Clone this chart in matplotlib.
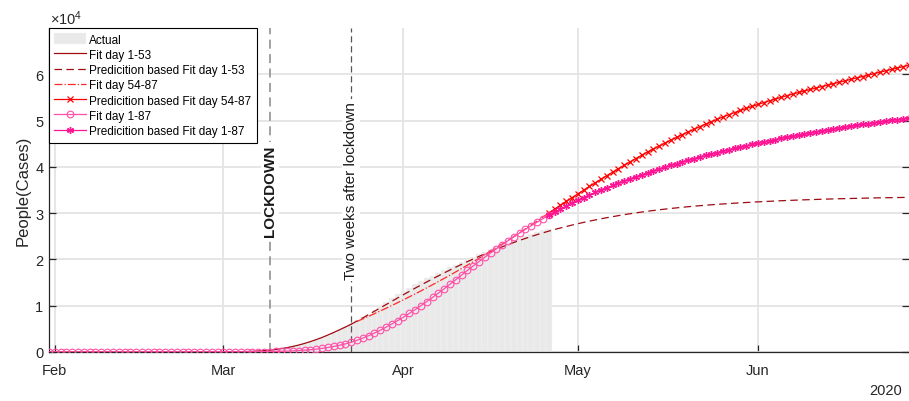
import numpy as np
import matplotlib.pyplot as plt
import matplotlib.dates as mdates
import matplotlib.transforms as mtransforms
from matplotlib.ticker import FuncFormatter

plt.rcParams['font.family'] = ['Liberation Sans', 'DejaVu Sans']
plt.rcParams['mathtext.default'] = 'regular'

# day 1 = 31 Jan 2020
start = np.datetime64('2020-01-31')
end = np.datetime64('2020-06-27')
lockdown = np.datetime64('2020-03-09')
two_weeks = np.datetime64('2020-03-23')

# reported cumulative numbers, days 1-87
actual = [0, 0, 0, 0, 0, 0, 0, 0, 0, 0,
          0, 0, 0, 0, 0, 0, 0, 0, 0, 0,
          0, 1, 2, 3, 7, 10, 12, 17, 21, 29,
          34, 52, 79, 107, 148, 197, 233, 366, 463, 631,
          827, 1016, 1266, 1441, 1809, 2158, 2503, 2978, 3405, 4032,
          4825, 5476, 6077, 6820, 7503, 8165, 9134, 10023, 10779, 11591,
          12428, 13155, 13915, 14681, 15362, 15887, 16523, 17127, 17669, 18279,
          18849, 19468, 19899, 20465, 21067, 21645, 22170, 22745, 23227, 23660,
          24114, 24648, 25085, 25549, 25969, 26384, 26644]

# model fitted on days 1-53 (fit) and its extrapolation from day 53
fit_1_53 = [0, 0, 0, 0, 0, 0, 0, 0, 0, 0,
            0, 0, 0, 0, 1, 1, 1, 1, 1, 1,
            1, 1, 2, 2, 3, 3, 5, 7, 11, 16,
            23, 34, 50, 72, 105, 150, 215, 300, 410, 550,
            730, 950, 1210, 1510, 1860, 2250, 2680, 3150, 3670, 4220,
            4800, 5390, 6000]
pred_1_53 = [6000, 6680, 7370, 8080, 8800, 9520, 10240, 10960, 11680, 12390,
             13090, 13780, 14460, 15130, 15790, 16440, 17080, 17710, 18330, 18930,
             19520, 20090, 20650, 21190, 21720, 22230, 22730, 23210, 23670, 24120,
             24550, 24960, 25360, 25740, 26110, 26460, 26790, 27110, 27420, 27720,
             28000, 28270, 28530, 28780, 29020, 29240, 29460, 29670, 29870, 30060,
             30240, 30410, 30570, 30720, 30870, 31010, 31140, 31270, 31390, 31500,
             31610, 31710, 31810, 31900, 31990, 32070, 32150, 32230, 32300, 32370,
             32440, 32500, 32560, 32620, 32680, 32730, 32780, 32830, 32880, 32920,
             32960, 33000, 33040, 33080, 33110, 33140, 33170, 33200, 33230, 33260,
             33290, 33310, 33330, 33350, 33370, 33390, 33410]

# model fitted on days 54-87 and its extrapolation from day 87
fit_54_87 = [6600, 7150, 7710, 8280, 8860, 9450, 10050, 10660, 11280, 11910,
             12550, 13200, 13860, 14530, 15210, 15900, 16600, 17310, 18030, 18760,
             19500, 20250, 21010, 21780, 22560, 23350, 24150, 24960, 25780, 26610,
             27450, 28300, 29160, 30030]
pred_54_87 = [30030, 30870, 31700, 32520, 33340, 34150, 34960, 35760, 36550, 37330,
              38100, 38860, 39610, 40350, 41080, 41800, 42510, 43210, 43870, 44510,
              45140, 45760, 46370, 46970, 47550, 48120, 48680, 49230, 49760, 50280,
              50780, 51270, 51740, 52200, 52640, 53070, 53480, 53880, 54270, 54650,
              55020, 55380, 55730, 56070, 56400, 56720, 57040, 57350, 57660, 57970,
              58280, 58590, 58900, 59210, 59520, 59830, 60140, 60450, 60760, 61060,
              61360, 61660, 61960]

# model fitted on days 1-87 and its extrapolation from day 87
fit_1_87 = [1, 1, 1, 1, 1, 2, 2, 2, 2, 2,
            2, 3, 3, 3, 4, 4, 5, 5, 6, 7,
            7, 8, 9, 10, 11, 12, 14, 16, 18, 20,
            23, 27, 32, 38, 46, 56, 68, 84, 104, 130,
            160, 200, 250, 320, 400, 500, 630, 790, 980, 1200,
            1460, 1760, 2110, 2520, 3000, 3530, 4100, 4700, 5370, 6060,
            6780, 7540, 8330, 9150, 10000, 10880, 11790, 12720, 13670, 14640,
            15620, 16610, 17610, 18590, 19550, 20490, 21410, 22310, 23190, 24050,
            24890, 25710, 26510, 27290, 28050, 28800, 29540]
pred_1_87 = [29540, 30200, 30880, 31540, 32180, 32790, 33370, 33930, 34470, 34990,
             35490, 35980, 36460, 36930, 37390, 37840, 38280, 38710, 39130, 39540,
             39940, 40330, 40710, 41080, 41440, 41790, 42130, 42460, 42780, 43090,
             43400, 43700, 43990, 44280, 44560, 44840, 45110, 45380, 45640, 45900,
             46150, 46400, 46640, 46880, 47110, 47340, 47560, 47780, 47990, 48200,
             48400, 48600, 48790, 48980, 49170, 49350, 49530, 49700, 49870, 50040,
             50200, 50360, 50520]


def days(first, values):
    return start + np.arange(first - 1, first - 1 + len(values))


fig = plt.figure(figsize=(9.09, 4.02), dpi=100)
ax = fig.add_axes([49 / 909, 49 / 402, 860 / 909, 324 / 402])

bars = ax.bar(days(1, actual), actual, width=1.0, color='#e9e9e9', edgecolor='#f6f6f6',
              linewidth=0.3, label='Actual', zorder=1)

dark = '#a00a12'
l1, = ax.plot(days(1, fit_1_53), fit_1_53, '-', color=dark, lw=0.9,
              label='Fit day 1-53', zorder=3)
l2, = ax.plot(days(53, pred_1_53), pred_1_53, '--', color=dark, lw=0.9, dashes=(6, 3.5),
              label='Predicition based Fit day 1-53', zorder=3)
l3, = ax.plot(days(54, fit_54_87), fit_54_87, '-.', color='#ff2a2a', lw=0.9,
              label='Fit day 54-87', zorder=3)
l4, = ax.plot(days(87, pred_54_87), pred_54_87, '-', color='#ff0000', lw=0.9, marker='x',
              ms=4, mew=0.9, label='Predicition based Fit day 54-87', zorder=4)
l5, = ax.plot(days(1, fit_1_87), fit_1_87, '-', color='#ff4fa7', lw=0.9, marker='o',
              mfc='none', ms=4.8, mew=0.8, label='Fit day 1-87', zorder=5)
l6, = ax.plot(days(87, pred_1_87), pred_1_87, '-', color='#ff1493', lw=0.9, marker=(6, 2, 0),
              ms=5, mew=1.0, label='Predicition based Fit day 1-87', zorder=5)

# lockdown markers
ax.axvline(lockdown, color='#9a9a9a', lw=1.3, ls=(0, (5, 3)), zorder=2)
ax.axvline(two_weeks, color='#555555', lw=0.9, ls=(0, (5, 3)), zorder=2)
trans = mtransforms.blended_transform_factory(ax.transData, ax.transAxes)
ax.text(lockdown, 0.5, 'LOCKDOWN', transform=trans, rotation=90, ha='center',
        va='center', fontsize=11, fontweight='bold', color='#1a1a1a',
        bbox=dict(facecolor='white', edgecolor='none', pad=1.5), zorder=6)
ax.text(two_weeks, 0.5, 'Two weeks after lockdown', transform=trans, rotation=90,
        ha='center', va='center', fontsize=11, color='#1a1a1a',
        bbox=dict(facecolor='white', edgecolor='none', pad=1.5), zorder=6)

ax.set_xlim(start, end)
ax.set_ylim(0, 70000)
ax.set_yticks(np.arange(0, 70000, 10000))
ax.yaxis.set_major_formatter(FuncFormatter(lambda v, p: f'{v / 1e4:g}'))
ax.xaxis.set_major_locator(mdates.MonthLocator())
ax.xaxis.set_major_formatter(mdates.DateFormatter('%b'))

ax.grid(True, color='#e4e4e4', lw=1.3)
ax.set_axisbelow(True)
for side in ['top', 'right']:
    ax.spines[side].set_visible(False)
for side in ['left', 'bottom']:
    ax.spines[side].set_color('#262626')
    ax.spines[side].set_linewidth(0.9)
ax.tick_params(axis='both', direction='in', length=5, width=0.9, color='#262626',
               labelsize=10.5, labelcolor='#262626')
ax.tick_params(axis='x', pad=8)
ax.tick_params(axis='y', pad=4, right=True)

ax.set_ylabel('People(Cases)', fontsize=12, color='#262626', labelpad=3)
fig.text(50 / 909, (402 - 25) / 402, r'$\times10^{4}$', ha='left', va='baseline',
         fontsize=10.5, color='#262626')
fig.text(902 / 909, (402 - 391) / 402, '2020', ha='right', va='center',
         fontsize=10.5, color='#262626')

leg = ax.legend([bars, l1, l2, l3, l4, l5, l6],
                [h.get_label() for h in [bars, l1, l2, l3, l4, l5, l6]],
                loc='upper left', bbox_to_anchor=(0, 1), borderaxespad=0,
                fontsize=8.5, fancybox=False, framealpha=1, edgecolor='black',
                handlelength=2.7, handleheight=1.0, handletextpad=0.25,
                labelspacing=0.25, borderpad=0.45)
leg.get_frame().set_linewidth(0.8)

fig.savefig('out.png', dpi=100)
